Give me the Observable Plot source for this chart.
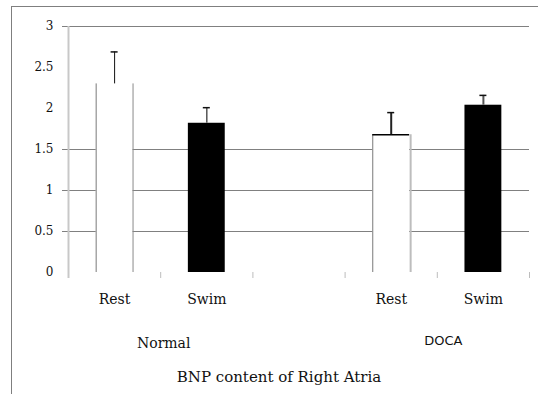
<!DOCTYPE html>
<html><head><meta charset="utf-8">
<script src="https://cdn.jsdelivr.net/npm/d3@7"></script>
<script src="https://cdn.jsdelivr.net/npm/@observablehq/plot@0.6"></script>
<style>
body{margin:0;background:#fff}
#wrap{position:relative;width:538px;height:394px;overflow:hidden;background:#fff}
#wrap svg{display:block}
#frame{position:absolute;left:11px;top:6px;right:-2px;bottom:-2px;border-top:1px solid #7f7f7f;border-left:1px solid #7f7f7f;pointer-events:none}
</style>
</head><body><div id="wrap"><div id="frame"></div></div>
<script>
const groups = ["Normal", "DOCA"];
const groupSlots = [1, 4];
const conditions = ["Rest", "Swim", "Rest", "Swim"];
const slots = [0, 1, 3, 4];
const means = [2.30, 1.82, 1.68, 2.04];
const errors = [0.39, 0.19, 0.27, 0.12];
const yTicks = [0, 0.5, 1, 1.5, 2, 2.5, 3];
const gridValues = [0.5, 1, 1.5, 3];
const slotBoundaries = [1, 2, 3, 4, 5];
const title = "BNP content of Right Atria";

const bars = slots.map((s, i) => ({slot: s, group: s < 2 ? groups[0] : groups[1], cond: conditions[i], mean: means[i], err: errors[i]}));
const rest = bars.filter(d => d.cond === "Rest");
const swim = bars.filter(d => d.cond === "Swim");
const serif = "DejaVu Serif";
const L = d => d.slot + 0.3, R = d => d.slot + 0.7, C = d => d.slot + 0.5, T = d => d.mean + d.err;

const chart = Plot.plot({
  width: 538, height: 394,
  marginLeft: 68, marginRight: 9, marginTop: 26, marginBottom: 122,
  style: {fontFamily: serif, fontSize: "12px", background: "transparent", color: "#111"},
  x: {domain: [0, 5], axis: null},
  y: {domain: [0, 3], ticks: yTicks, tickSize: 0, tickPadding: 15, tickFormat: d => String(d), label: null},
  marks: [
    Plot.ruleY(gridValues, {x1: 0, x2: 5, insetLeft: -6, stroke: "#808080", strokeWidth: 1}),
    Plot.ruleX([0], {y1: 3, y2: 0, insetBottom: -6, stroke: "#c8c8c8", strokeWidth: 2}),
    Plot.ruleX(slotBoundaries, {y1: 0, y2: 0, insetBottom: -6, stroke: "#bdbdbd", strokeWidth: 1}),
    Plot.rect(rest, {x1: L, x2: R, y1: 0, y2: "mean", fill: "white"}),
    Plot.rect(swim, {x1: L, x2: R, y1: 0, y2: "mean", fill: "black"}),
    Plot.ruleX(rest, {x: L, y1: "mean", y2: 0, stroke: "#7a7a7a", strokeWidth: 1}),
    Plot.ruleX(rest.filter(d => d.group === "Normal"), {x: R, y1: "mean", y2: 0, stroke: "#8a8a8a", strokeWidth: 1}),
    Plot.ruleX(rest.filter(d => d.group === "DOCA"), {x: R, y1: "mean", y2: 0, dx: 1, stroke: "#bdbdbd", strokeWidth: 2}),
    Plot.ruleY(rest.filter(d => d.group === "DOCA"), {y: "mean", x1: L, x2: R, stroke: "black", strokeWidth: 1.5}),
    Plot.ruleX(bars.filter(d => d.group === "Normal" && d.cond === "Rest"), {x: C, y1: T, y2: "mean", stroke: "#111", strokeWidth: 1}),
    Plot.ruleX(bars.filter(d => d.group === "Normal" && d.cond === "Swim"), {x: C, y1: T, y2: "mean", stroke: "#555", strokeWidth: 1.5}),
    Plot.ruleX(bars.filter(d => d.group === "DOCA" && d.cond === "Rest"), {x: C, y1: T, y2: "mean", stroke: "#222", strokeWidth: 2}),
    Plot.ruleX(bars.filter(d => d.group === "DOCA" && d.cond === "Swim"), {x: C, y1: T, y2: "mean", stroke: "#555", strokeWidth: 2}),
    Plot.ruleY(bars, {y: T, x1: C, x2: C, insetLeft: -3.5, insetRight: -3.5, stroke: "#111", strokeWidth: 1.5}),
    Plot.text(bars, {x: C, y: 0, dy: 27, text: "cond", fontSize: 14, fontFamily: serif, fill: "#111"}),
    Plot.text([groups[0]], {x: () => groupSlots[0], y: 0, dx: 3, dy: 71, text: d => d, fontSize: 14, fontFamily: serif, fill: "#111"}),
    Plot.text([groups[1]], {x: () => groupSlots[1], y: 0, dx: 6, dy: 68, text: d => d, fontSize: 13, fontFamily: "DejaVu Sans", fill: "#111"}),
    Plot.text([title], {frameAnchor: "bottom", dx: -20, dy: 109, text: d => d, fontSize: 15, fontFamily: serif, fill: "#111"})
  ]
});
document.getElementById("wrap").prepend(chart);
</script>
</body></html>
